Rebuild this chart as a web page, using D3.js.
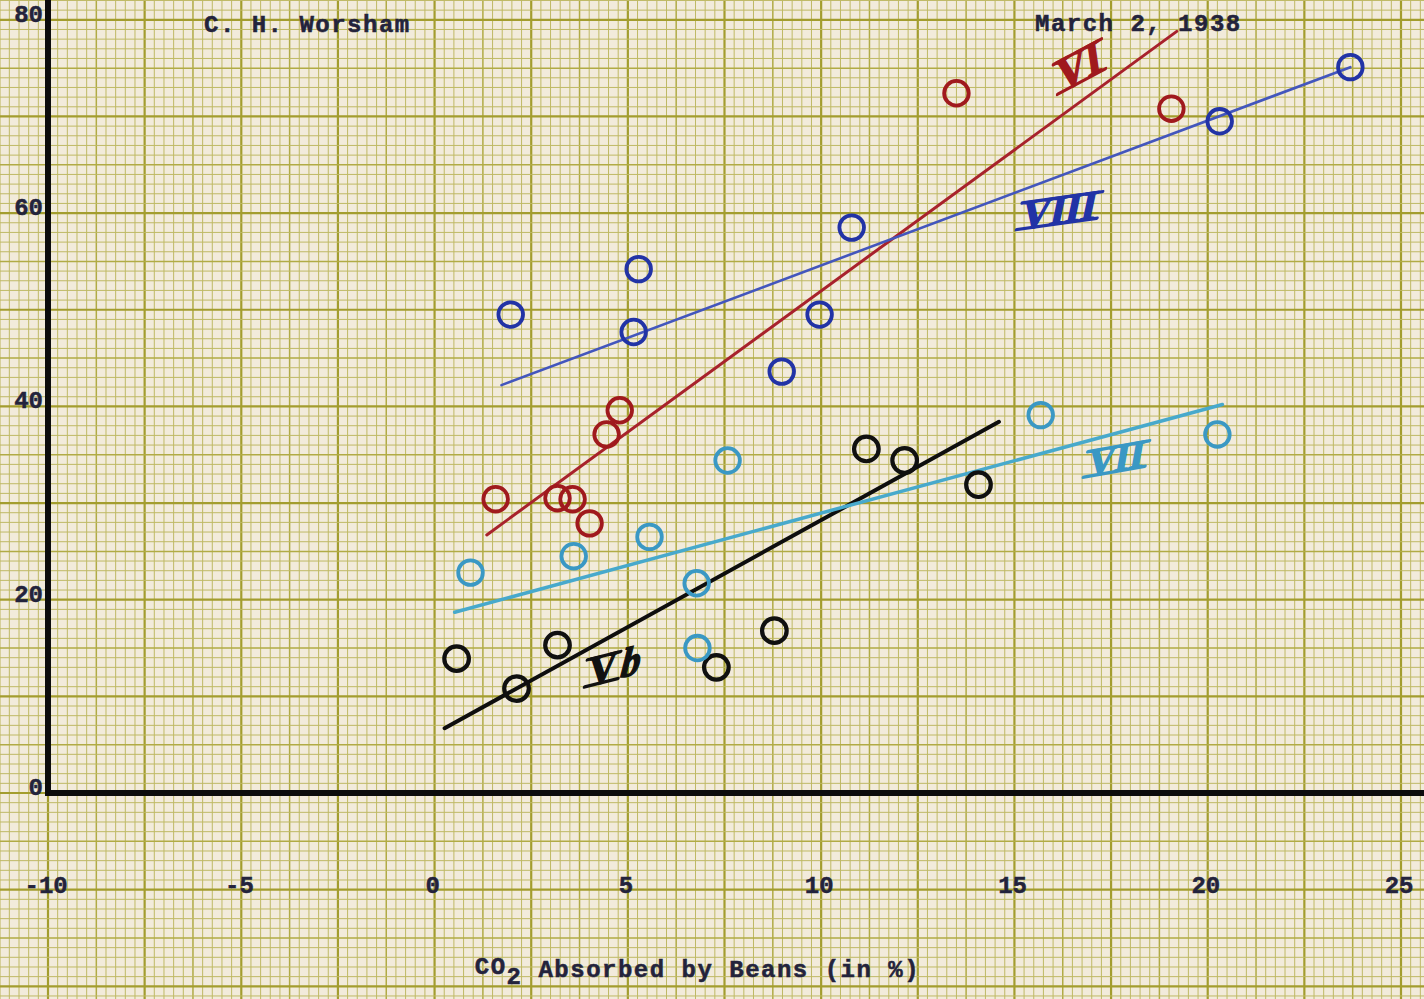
<!DOCTYPE html>
<html>
<head>
<meta charset="utf-8">
<script src="https://cdn.jsdelivr.net/npm/d3@7"></script>
<style>
  html, body { margin: 0; padding: 0; background: #efe6d2; }
  svg { display: block; }
</style>
</head>
<body>
<script>
// tick labels
var xTicks = [-10, -5, 0, 5, 10, 15, 20, 25];
var yTicks = [0, 20, 40, 60, 80];

// series Vb (black)
var vbX = [0.57, 2.12, 3.18, 7.29, 8.79, 11.17, 12.16, 14.07];
var vbY = [13.9, 10.8, 15.3, 13.0, 16.8, 35.6, 34.4, 31.9];
var vbFit = [[0.26, 6.7], [14.6, 38.4]];

// series VI (red)
var viX = [1.58, 3.18, 3.57, 4.01, 4.45, 4.79, 13.50, 19.06];
var viY = [30.4, 30.5, 30.4, 27.9, 37.1, 39.6, 72.4, 70.8];
var viFit = [[1.35, 26.7], [19.2, 78.8]];

// series VII (light blue)
var viiX = [0.93, 3.60, 5.56, 7.58, 6.78, 6.80, 15.68, 20.25];
var viiY = [22.8, 24.5, 26.5, 34.4, 21.7, 15.0, 39.1, 37.1];
var viiFit = [[0.52, 18.7], [20.38, 40.2]];

// series VIII (blue)
var viiiX = [1.97, 5.28, 5.15, 8.98, 9.96, 10.79, 20.31, 23.69];
var viiiY = [49.5, 54.2, 47.7, 43.6, 49.5, 58.5, 69.5, 75.1];
var viiiFit = [[1.73, 42.2], [23.69, 75.1]];

// handwritten series names, where they sit (data units)
var seriesNames = ["Vb", "VI", "VII", "VIII"];
var nameX = [4.6, 16.68, 17.64, 16.17];
var nameY = [13.1, 75.2, 34.6, 60.3];

var W = 1424, H = 999;

var svg = d3.select("body").append("svg")
  .attr("width", W)
  .attr("height", H);

var x = d3.scaleLinear().domain([-10, 25]).range([48, 1401]);
var y = d3.scaleLinear().domain([0, 80]).range([793, 19.8]);

// paper
svg.append("rect").attr("width", W).attr("height", H).attr("fill", "#f2ebdb");

// graph paper grid: 0.25 units across, 1 unit up
var grid = svg.append("g");
function gridStyle(sel, major, mid) {
  sel.attr("stroke", major ? "#a39d2e" : mid ? "#b1ab45" : "#bfb965")
    .attr("stroke-width", major ? 2.2 : mid ? 1.5 : 1.0);
}
var kx0 = Math.floor((x.invert(0) + 10) / 0.25), kx1 = Math.ceil((x.invert(W) + 10) / 0.25);
d3.range(kx0, kx1 + 1).forEach(function(k) {
  var px = x(-10 + k * 0.25);
  grid.append("line")
    .attr("x1", px).attr("x2", px).attr("y1", 0).attr("y2", H)
    .call(gridStyle, k % 10 === 0, k % 5 === 0);
});
var ky0 = Math.floor(y.invert(H)), ky1 = Math.ceil(y.invert(0));
d3.range(ky0, ky1 + 1).forEach(function(k) {
  var py = y(k);
  grid.append("line")
    .attr("x1", 0).attr("x2", W).attr("y1", py).attr("y2", py)
    .call(gridStyle, k % 10 === 0, k % 5 === 0);
});

var ink = "#23233c";
var typeFont = "'Liberation Mono', 'DejaVu Sans Mono', monospace";

// axes (typed tick labels)
var yAxis = svg.append("g")
  .attr("transform", "translate(" + x(-10) + ",0)")
  .call(d3.axisLeft(y).tickValues(yTicks).tickSize(0).tickPadding(5));
var xAxis = svg.append("g")
  .attr("transform", "translate(0,876)")
  .call(d3.axisBottom(x).tickValues(xTicks).tickSize(0).tickPadding(0)
    .tickFormat(function(d) { return String(d); }));
[xAxis, yAxis].forEach(function(a) {
  a.select(".domain").remove();
  a.selectAll("text")
    .attr("fill", ink)
    .attr("stroke", ink)
    .attr("stroke-width", 0.5)
    .style("font-family", typeFont)
    .style("font-size", "24px")
    .style("font-weight", "bold");
});
yAxis.selectAll("text").attr("dy", "0.06em");
xAxis.selectAll("text").attr("dx", "-0.1em");

// heavy axis lines
svg.append("line")
  .attr("x1", x(-10)).attr("x2", x(-10)).attr("y1", 0).attr("y2", y(0) + 3)
  .attr("stroke", "#0c0c0c").attr("stroke-width", 6);
svg.append("line")
  .attr("x1", x(-10) - 3).attr("x2", W).attr("y1", y(0)).attr("y2", y(0))
  .attr("stroke", "#0c0c0c").attr("stroke-width", 6);

// typed texts
function typed(t, px, py) {
  return svg.append("text")
    .attr("x", px).attr("y", py)
    .attr("fill", ink)
    .attr("stroke", ink)
    .attr("stroke-width", 0.5)
    .style("font-family", typeFont)
    .style("font-size", "24px")
    .style("font-weight", "bold")
    .style("letter-spacing", "1.5px")
    .text(t);
}
typed("C. H. Worsham", 204, 32);
typed("March 2, 1938", 1035, 31);

var title = typed("", x(6.8), 977).attr("text-anchor", "middle");
title.append("tspan").attr("dy", -3).text("CO");
title.append("tspan").attr("dy", 10).text("2");
title.append("tspan").attr("dy", -7).text(" Absorbed by Beans (in %)");

// series
var series = [
  { xs: vbX, ys: vbY, fit: vbFit, circle: "#101010", line: "#0e0e0e", lw: 4, cw: 4.2 },
  { xs: viX, ys: viY, fit: viFit, circle: "#a0191d", line: "#a8222c", lw: 3, cw: 3.8 },
  { xs: viiX, ys: viiY, fit: viiFit, circle: "#3a98c4", line: "#47a9cc", lw: 3.5, cw: 3.8 },
  { xs: viiiX, ys: viiiY, fit: viiiFit, circle: "#2233a6", line: "#4356bd", lw: 2.6, cw: 3.8 }
];

var line = d3.line().x(function(d) { return x(d[0]); }).y(function(d) { return y(d[1]); });

series.forEach(function(s) {
  svg.append("path")
    .datum(s.fit)
    .attr("d", line)
    .attr("fill", "none")
    .attr("stroke", s.line)
    .attr("stroke-width", s.lw)
    .attr("stroke-linecap", "round");
});

series.forEach(function(s) {
  svg.append("g").selectAll("circle")
    .data(d3.range(s.xs.length))
    .enter().append("circle")
    .attr("cx", function(i) { return x(s.xs[i]); })
    .attr("cy", function(i) { return y(s.ys[i]); })
    .attr("r", 12.3)
    .attr("fill", "none")
    .attr("stroke", s.circle)
    .attr("stroke-width", s.cw);
});

// handwritten roman numerals with bars over and under
var nameColor = ["#111111", "#a0191d", "#3a98c4", "#2233a6"];
var nameTilt = [-14, -28, -10, -8];
var nameSize = [40, 44, 38, 40];
var serif = "'Liberation Serif', 'DejaVu Serif', serif";
seriesNames.forEach(function(n, i) {
  var roman = n.replace(/[a-z]/g, ""), suffix = n.replace(/[A-Z]/g, "");
  var fs = nameSize[i], base = fs * 0.33, cap = fs * 0.64;
  var g = svg.append("g")
    .attr("transform", "translate(" + x(nameX[i]) + "," + y(nameY[i]) + ") rotate(" + nameTilt[i] + ")");
  var inner = g.append("g").attr("transform", "skewX(-20)");
  var t = inner.append("text")
    .attr("y", base)
    .attr("fill", nameColor[i])
    .attr("stroke", nameColor[i])
    .attr("stroke-width", 1.6)
    .style("font-family", serif)
    .style("font-size", fs + "px")
    .style("font-weight", "bold")
    .text(roman);
  var w = t.node().getComputedTextLength();
  var left = suffix ? -w / 2 - 10 : -w / 2;
  t.attr("x", left);
  [base - cap, base].forEach(function(by) {
    inner.append("line")
      .attr("x1", left - 3).attr("x2", left + w + 3)
      .attr("y1", by).attr("y2", by)
      .attr("stroke", nameColor[i]).attr("stroke-width", 3.2)
      .attr("stroke-linecap", "round");
  });
  if (suffix) {
    inner.append("text")
      .attr("x", left + w + 5).attr("y", base)
      .attr("fill", nameColor[i])
      .attr("stroke", nameColor[i])
      .attr("stroke-width", 1.4)
      .style("font-family", serif)
      .style("font-size", fs + "px")
      .style("font-style", "italic")
      .style("font-weight", "bold")
      .text(suffix);
  }
});
</script>
</body>
</html>
